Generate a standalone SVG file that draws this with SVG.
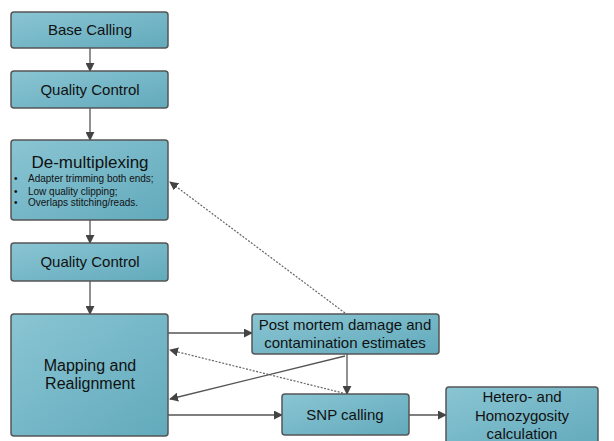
<svg xmlns="http://www.w3.org/2000/svg" width="614" height="441" viewBox="0 0 614 441">
<defs>
<linearGradient id="g" x1="0" y1="0" x2="1" y2="1">
<stop offset="0" stop-color="#8ac5d3"/>
<stop offset="1" stop-color="#62aabc"/>
</linearGradient>
<marker id="ah" viewBox="0 0 10 10" refX="9" refY="5" markerWidth="9" markerHeight="9" markerUnits="userSpaceOnUse" orient="auto">
<path d="M0,0 L10,5 L0,10 z" fill="#444"/>
</marker>
</defs>
<style>
.box{fill:url(#g);stroke:#555;stroke-width:1.5}
.t{font-family:"Liberation Sans",Arial,sans-serif;font-size:15px;fill:#111;text-anchor:middle}
.s{font-family:"Liberation Sans",Arial,sans-serif;font-size:10px;fill:#111}
.c{stroke:#555;stroke-width:1.3;fill:none;marker-end:url(#ah)}
.d{stroke:#666;stroke-width:1.2;fill:none;stroke-dasharray:2,1.5;marker-end:url(#ah)}
</style>
<rect width="614" height="441" fill="#fff"/>
<g id="connectors">
<line class="c" x1="90" y1="48" x2="90" y2="71"/>
<line class="c" x1="90" y1="108" x2="90" y2="140"/>
<line class="c" x1="90" y1="220" x2="90" y2="243"/>
<line class="c" x1="90" y1="281" x2="90" y2="314"/>
<line class="c" x1="168" y1="333" x2="252" y2="333"/>
<line class="c" x1="168" y1="415" x2="282" y2="415"/>
<line class="c" x1="409" y1="415" x2="446" y2="415"/>
<line class="c" x1="347" y1="354" x2="347" y2="394"/>
<line class="c" x1="345" y1="356" x2="170" y2="399"/>
<line class="d" x1="343" y1="393" x2="170" y2="350"/>
<line class="d" x1="345" y1="313" x2="170" y2="182"/>
</g>
<g id="base-calling">
<rect class="box" x="11" y="12" width="157" height="36" rx="3"/>
<text class="t" x="90" y="35">Base Calling</text>
</g>
<g id="quality-control-1">
<rect class="box" x="11" y="71" width="157" height="37" rx="3"/>
<text class="t" x="90" y="95">Quality Control</text>
</g>
<g id="demultiplexing">
<rect class="box" x="11" y="140" width="157" height="80" rx="3"/>
<text class="t" x="90" y="168" style="font-size:17px">De-multiplexing</text>
<text class="s" x="14" y="182">•</text>
<text class="s" x="28" y="182">Adapter trimming both ends;</text>
<text class="s" x="14" y="195">•</text>
<text class="s" x="28" y="195">Low quality clipping;</text>
<text class="s" x="14" y="206">•</text>
<text class="s" x="28" y="206">Overlaps stitching/reads.</text>
</g>
<g id="quality-control-2">
<rect class="box" x="11" y="243" width="157" height="38" rx="3"/>
<text class="t" x="90" y="267">Quality Control</text>
</g>
<g id="mapping">
<rect class="box" x="11" y="314" width="157" height="122" rx="3"/>
<text class="t" x="90" y="371" style="font-size:16px">Mapping and</text>
<text class="t" x="90" y="389" style="font-size:16px">Realignment</text>
</g>
<g id="post-mortem">
<rect class="box" x="252" y="314" width="187" height="40" rx="3"/>
<text class="t" x="345" y="330">Post mortem damage and</text>
<text class="t" x="345" y="348">contamination estimates</text>
</g>
<g id="snp-calling">
<rect class="box" x="282" y="394" width="127" height="41" rx="3"/>
<text class="t" x="345" y="420">SNP calling</text>
</g>
<g id="hetero">
<rect class="box" x="446" y="387" width="152" height="60" rx="3"/>
<text class="t" x="522" y="402">Hetero- and</text>
<text class="t" x="522" y="421">Homozygosity</text>
<text class="t" x="522" y="439">calculation</text>
</g>
</svg>
